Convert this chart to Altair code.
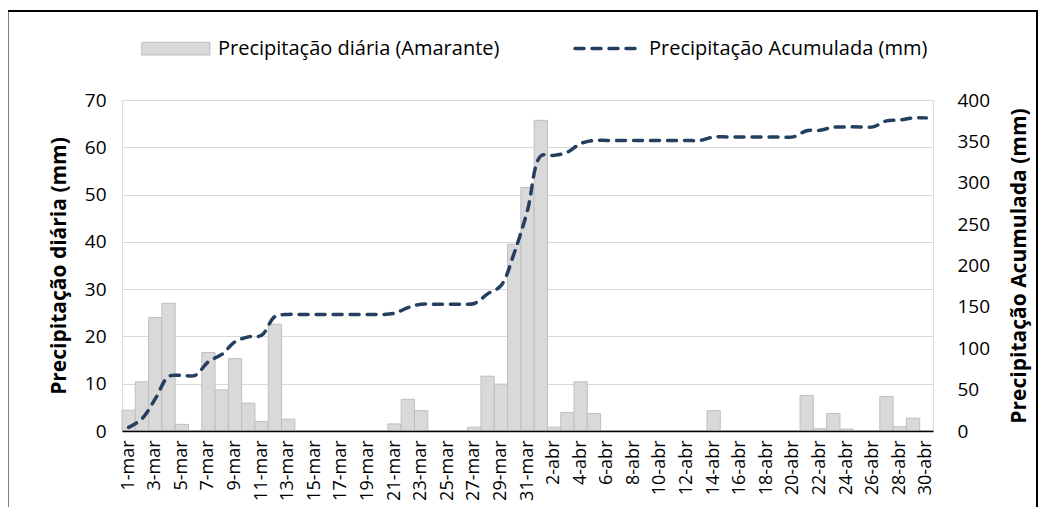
import altair as alt
import pandas as pd

# ---------------- data ----------------
dates = [f"{d}-mar" for d in range(1, 32)] + [f"{d}-abr" for d in range(1, 31)]

daily = [4.4, 10.4, 24.0, 27.0, 1.4, 0, 16.6, 8.7, 15.3, 5.9, 2.0, 22.6, 2.5,
         0, 0, 0, 0, 0, 0, 0, 1.5, 6.7, 4.3, 0, 0, 0, 0.8, 11.6, 9.9, 39.5, 51.5,
         65.7, 0.8, 3.9, 10.4, 3.7, 0, 0, 0, 0, 0, 0, 0, 0, 4.3, 0, 0, 0, 0, 0, 0,
         7.5, 0.5, 3.7, 0.4, 0, 0, 7.3, 0.9, 2.7, 0]

cumulative = [4.4, 14.8, 38.8, 65.8, 67.2, 67.2, 83.8, 92.5, 107.8, 113.7, 115.7,
              138.3, 140.8, 140.8, 140.8, 140.8, 140.8, 140.8, 140.8, 140.8, 142.3,
              149.0, 153.3, 153.3, 153.3, 153.3, 154.1, 165.7, 175.6, 215.1, 266.6,
              332.3, 333.1, 337.0, 347.4, 351.1, 351.1, 351.1, 351.1, 351.1, 351.1,
              351.1, 351.1, 351.1, 355.4, 355.4, 355.4, 355.4, 355.4, 355.4, 355.4,
              362.9, 363.4, 367.1, 367.5, 367.5, 367.5, 374.8, 375.7, 378.4, 378.4]

tick_labels = dates[::2]
left_ticks = [0, 10, 20, 30, 40, 50, 60, 70]
right_ticks = [0, 50, 100, 150, 200, 250, 300, 350, 400]

legend_bar = "Precipitação diária (Amarante)"
legend_line = "Precipitação Acumulada (mm)"
title_left = "Precipitação diária (mm)"
title_right = "Precipitação Acumulada (mm)"

df = pd.DataFrame({"data": dates, "diaria": daily, "acumulada": cumulative})
one = pd.DataFrame({"k": [0]})

FONT = "Open Sans"
W, H = 811, 331

x_enc = alt.X(
    "data:N", sort=dates,
    scale=alt.Scale(paddingInner=0, paddingOuter=0),
    axis=alt.Axis(values=tick_labels, labelAngle=-90, labelFontSize=18, labelFont=FONT,
                  labelColor="black", labelPadding=9, ticks=False, domainColor="black",
                  domainWidth=1.5, grid=False, title=None, zindex=1, labelOverlap=False),
)

bars = alt.Chart(df).mark_bar(fill="#D9D9D9", stroke="#BFBFBF", strokeWidth=1).encode(
    x=x_enc,
    y=alt.Y("diaria:Q", scale=alt.Scale(domain=[0, 70]),
            axis=alt.Axis(values=left_ticks, title=title_left, grid=True, gridColor="#D9D9D9",
                          gridWidth=1, domain=False, ticks=False, labelFont=FONT,
                          labelFontSize=19, labelColor="black", labelPadding=16,
                          titleFont=FONT, titleFontSize=21, titleFontWeight="bold",
                          titleColor="black", titlePadding=15)),
)

line = alt.Chart(df).mark_line(color="#243F60", strokeWidth=3.5, strokeDash=[9, 8],
                               strokeCap="round", interpolate="catmull-rom").encode(
    x=alt.X("data:N", sort=dates),
    y=alt.Y("acumulada:Q", scale=alt.Scale(domain=[0, 400]),
            axis=alt.Axis(orient="right", values=right_ticks, title=title_right, grid=False,
                          domain=False, ticks=False, labelFont=FONT, labelFontSize=19,
                          labelColor="black", labelPadding=24, titleFont=FONT,
                          titleFontSize=21, titleFontWeight="bold", titleColor="black",
                          titlePadding=19, titleAngle=270, titleBaseline="top")),
)

leg_rect = alt.Chart(one).mark_rect(fill="#D9D9D9", stroke="#BFBFBF", strokeWidth=1).encode(
    x=alt.value(19.7), x2=alt.value(88), y=alt.value(-57.7), y2=alt.value(-45))
leg_text1 = alt.Chart(one).mark_text(align="left", baseline="middle", font=FONT, fontSize=20,
                                     color="black").encode(
    x=alt.value(96), y=alt.value(-51.5), text=alt.value(legend_bar))
leg_line = alt.Chart(one).mark_rule(color="#243F60", strokeWidth=3.5, strokeDash=[9, 8],
                                    strokeCap="round").encode(
    x=alt.value(453), x2=alt.value(518), y=alt.value(-51.5))
leg_text2 = alt.Chart(one).mark_text(align="left", baseline="middle", font=FONT, fontSize=20,
                                     color="black").encode(
    x=alt.value(527), y=alt.value(-51.5), text=alt.value(legend_line))
border = alt.Chart(one).mark_rect(fillOpacity=0, stroke="#000000", strokeWidth=2).encode(
    x=alt.value(-114.5), x2=alt.value(915), y=alt.value(-89), y2=alt.value(460))

chart = alt.layer(bars, line, leg_rect, leg_text1, leg_line, leg_text2, border).resolve_scale(
    y="independent"
).properties(
    width=W, height=H,
    autosize=alt.AutoSizeParams(type="none"),
    padding={"left": 114, "top": 92, "right": 112, "bottom": 76},
).configure_view(stroke=None).configure(background="white")

chart.save("out.html", embed_options={"renderer": "svg", "actions": False})
